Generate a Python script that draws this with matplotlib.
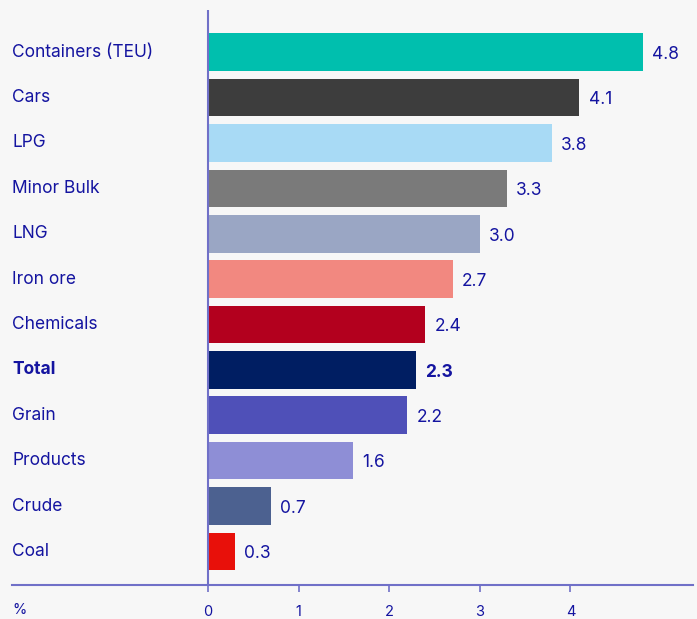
import matplotlib.pyplot as plt

categories = ["Containers (TEU)", "Cars", "LPG", "Minor Bulk", "LNG", "Iron ore",
              "Chemicals", "Total", "Grain", "Products", "Crude", "Coal"]
values = [4.8, 4.1, 3.8, 3.3, 3.0, 2.7, 2.4, 2.3, 2.2, 1.6, 0.7, 0.3]
colors = ["#00bfae", "#3d3d3d", "#a8daf5", "#7a7a7a", "#9aa6c4", "#f28880",
          "#b3001e", "#001e62", "#4f50b8", "#8e8ed6", "#4c6190", "#e8100a"]
ticks = [0, 1, 2, 3, 4]

BG = "#f7f7f7"
TXT = "#1414a0"
AX = "#7070c8"

plt.rcParams["font.family"] = ["Inter", "DejaVu Sans"]

W, H = 697, 619
fig = plt.figure(figsize=(W / 100, H / 100), dpi=100, facecolor=BG)

# axes spans from the label column to the right edge
x_left, x_right = 12, 693
y_top, y_bot = 10, 585
ax = fig.add_axes([x_left / W, (H - y_bot) / H, (x_right - x_left) / W, (y_bot - y_top) / H])
ax.set_facecolor(BG)

px_per_unit = 90.6
x0_px = 208
ax.set_xlim(-(x0_px - x_left) / px_per_unit, (x_right - x0_px) / px_per_unit)
ax.set_ylim(11.74, -0.93)

ypos = list(range(len(categories)))
ax.barh(ypos, values, height=0.83, color=colors, zorder=2)

for y, name, v in zip(ypos, categories, values):
    weight = "bold" if name == "Total" else "normal"
    ax.text(0, y, name, transform=ax.get_yaxis_transform(), ha="left", va="center",
            fontsize=12.5, color=TXT, fontweight=weight)
    ax.text(v + 0.1, y + 0.05, f"{v:.1f}", ha="left", va="center",
            fontsize=12.5, color=TXT, fontweight=weight)

for s in ax.spines.values():
    s.set_visible(False)
ax.axhline(11.74, color=AX, lw=1.5, clip_on=False, zorder=3)
ax.axvline(0, color=AX, lw=1.5, zorder=3)

ax.set_yticks([])
ax.set_xticks(ticks)
ax.set_xticklabels([str(t) for t in ticks])
ax.tick_params(axis="x", length=5, width=1.2, color=AX, labelcolor=TXT, labelsize=10.5, pad=9.5)
ax.annotate("%", xy=(0, 0), xycoords="axes fraction", xytext=(0, -13.1), textcoords="offset points",
            ha="left", va="top", fontsize=10.5, color=TXT)

fig.savefig("out.png", dpi=100, facecolor=BG)
